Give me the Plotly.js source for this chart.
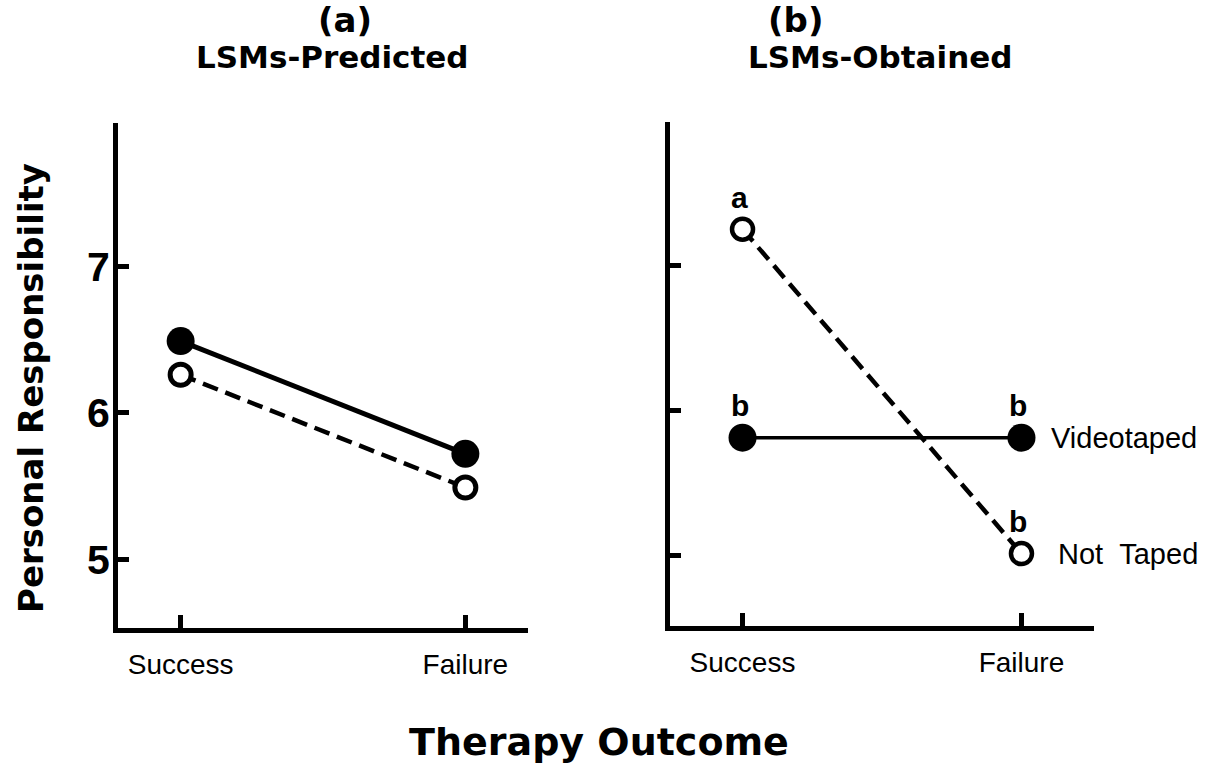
<!DOCTYPE html>
<html>
<head>
<meta charset="utf-8">
<script src="https://cdn.plot.ly/plotly-3.0.1.min.js"></script>
<style>html,body{margin:0;padding:0;background:#fff;}#chart{width:1207px;height:763px;}</style>
</head>
<body>
<div id="chart"></div>
<script>
// ---- data ----
const categories = ["Success", "Failure"];
const seriesNames = ["Videotaped", "Not Taped"];
// (a) LSMs-Predicted
const predVideotaped = [6.49, 5.72];
const predNotTaped = [6.26, 5.49];
// (b) LSMs-Obtained
const obtVideotaped = [5.81, 5.81];
const obtNotTaped = [7.25, 5.01];
const obtVideotapedSig = ["b", "b"];
const obtNotTapedSig = ["a", "b"];
const yTickVals = [5, 6, 7];
const yTickText = ["5", "6", "7"];
const panelTitles = ["(a)", "(b)"];
const panelSubtitles = ["LSMs-Predicted", "LSMs-Obtained"];
const xTitle = "Therapy Outcome";
const yTitle = "Personal Responsibility";

const SANS = "Liberation Sans, Arial, sans-serif";
const BOLDF = "DejaVu Sans, Liberation Sans, sans-serif";

function filled(x, y, xa, ya, lw) {
  return {x: x, y: y, xaxis: xa, yaxis: ya, type: "scatter", mode: "lines+markers",
    line: {color: "#000", width: lw, dash: "solid"},
    marker: {symbol: "circle", size: 28, color: "#000", line: {width: 0}},
    showlegend: false, hoverinfo: "skip"};
}
function open(x, y, xa, ya, lw, ms, mw) {
  return {x: x, y: y, xaxis: xa, yaxis: ya, type: "scatter", mode: "lines+markers",
    line: {color: "#000", width: lw, dash: "16px,8px"},
    marker: {symbol: "circle", size: ms, color: "#fff", line: {color: "#000", width: mw}},
    showlegend: false, hoverinfo: "skip"};
}

const data = [
  open(categories, predNotTaped, "x", "y", 4.5, 21, 5),
  filled(categories, predVideotaped, "x", "y", 5),
  open(categories, obtNotTaped, "x2", "y2", 4.5, 21, 4.5),
  filled(categories, obtVideotaped, "x2", "y2", 3.5)
];

const xaxisBase = {
  type: "category", showgrid: false, zeroline: false, showline: true,
  linecolor: "#000", linewidth: 5, ticks: "inside", ticklen: 13, tickwidth: 5,
  tickcolor: "#000", tickfont: {family: SANS, size: 28, color: "#000"},
  ticklabelstandoff: 7, fixedrange: true
};
const yaxisBase = {
  showgrid: false, zeroline: false, showline: true, linecolor: "#000", linewidth: 5,
  ticks: "inside", ticklen: 11, tickwidth: 5, tickcolor: "#000",
  tickmode: "array", tickvals: yTickVals, ticktext: yTickText,
  tickfont: {family: SANS, size: 41, color: "#000", weight: "bold"},
  ticklabelstandoff: -5, fixedrange: true
};

const annotations = [];
// panel titles
const titleX = [[345, 332], [795, 880]];
for (let i = 0; i < 2; i++) {
  annotations.push({xref: "paper", yref: "paper", x: titleX[i][0] / 1207, y: 1 - 20 / 763,
    text: "<b>" + panelTitles[i] + "</b>", showarrow: false, xanchor: "center", yanchor: "middle",
    font: {family: BOLDF, size: 34, color: "#000"}});
  annotations.push({xref: "paper", yref: "paper", x: titleX[i][1] / 1207, y: 1 - 57 / 763,
    text: "<b>" + panelSubtitles[i] + "</b>", showarrow: false, xanchor: "center", yanchor: "middle",
    font: {family: BOLDF, size: 31, color: "#000"}});
}
// axis titles
annotations.push({xref: "paper", yref: "paper", x: 599 / 1207, y: 1 - 742 / 763,
  text: "<b>" + xTitle + "</b>", showarrow: false, xanchor: "center", yanchor: "middle",
  font: {family: BOLDF, size: 38, color: "#000"}});
annotations.push({xref: "paper", yref: "paper", x: 31 / 1207, y: 1 - 388 / 763,
  text: "<b>" + yTitle + "</b>", showarrow: false, textangle: -90, xanchor: "center", yanchor: "middle",
  font: {family: BOLDF, size: 34, color: "#000"}});
// significance letters
for (let i = 0; i < 2; i++) {
  annotations.push({xref: "x2", yref: "y2", x: categories[i], y: obtVideotaped[i],
    text: "<b>" + obtVideotapedSig[i] + "</b>", showarrow: false, xanchor: "center", yanchor: "middle",
    yshift: 32, xshift: -3, font: {family: SANS, size: 30, color: "#000"}});
  annotations.push({xref: "x2", yref: "y2", x: categories[i], y: obtNotTaped[i],
    text: "<b>" + obtNotTapedSig[i] + "</b>", showarrow: false, xanchor: "center", yanchor: "middle",
    yshift: 32, xshift: -3, font: {family: SANS, size: 30, color: "#000"}});
}
// line-end labels
annotations.push({xref: "x2", yref: "y2", x: categories[1], y: obtVideotaped[1],
  text: seriesNames[0], showarrow: false, xanchor: "left", yanchor: "middle", xshift: 28,
  font: {family: SANS, size: 29, color: "#000"}});
annotations.push({xref: "x2", yref: "y2", x: categories[1], y: obtNotTaped[1],
  text: seriesNames[1].replace(" ", "&nbsp;&nbsp;"), showarrow: false, xanchor: "left", yanchor: "middle", xshift: 35,
  font: {family: SANS, size: 29, color: "#000"}});

const layout = {
  width: 1207, height: 763,
  margin: {l: 0, r: 0, t: 0, b: 0, pad: 0},
  paper_bgcolor: "#fff", plot_bgcolor: "rgba(0,0,0,0)",
  showlegend: false,
  xaxis: Object.assign({}, xaxisBase, {domain: [118 / 1207, 528 / 1207], range: [-0.22, 1.22], anchor: "y"}),
  yaxis: Object.assign({}, yaxisBase, {domain: [1 - 628 / 763, 1 - 123 / 763], range: [4.53, 7.98], anchor: "x"}),
  xaxis2: Object.assign({}, xaxisBase, {domain: [670 / 1207, 1094 / 1207], range: [-0.26, 1.26], anchor: "y2"}),
  yaxis2: Object.assign({}, yaxisBase, {domain: [1 - 626 / 763, 1 - 122 / 763], range: [4.51, 7.99], anchor: "x2", showticklabels: false}),
  annotations: annotations
};

Plotly.newPlot("chart", data, layout, {staticPlot: true, displayModeBar: false});
</script>
</body>
</html>
